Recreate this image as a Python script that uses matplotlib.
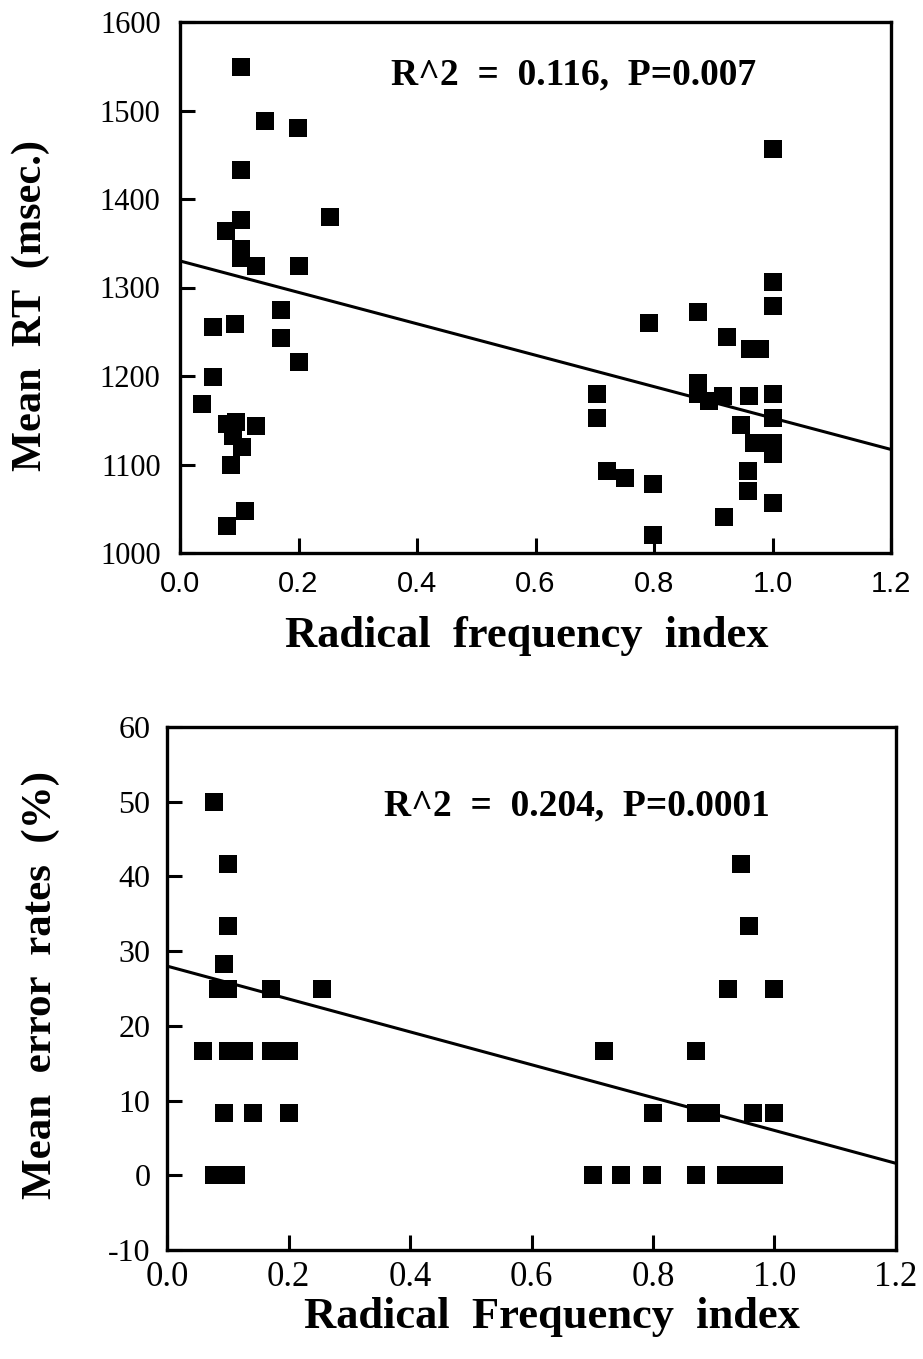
import matplotlib
matplotlib.use("Agg")
import matplotlib.pyplot as plt
from matplotlib.ticker import FixedLocator, FormatStrFormatter

plt.rcParams["axes.unicode_minus"] = False

# ---------------- data ----------------
rt_x = [0.103, 0.144, 0.199, 0.103, 0.103, 0.254, 0.078, 0.103, 0.103, 0.128,
        0.200, 0.171, 0.171, 0.056, 0.092, 0.200, 0.056, 0.037, 0.080, 0.095,
        0.128, 0.090, 0.104, 0.086, 0.110, 0.080,
        0.703, 0.703, 0.792, 0.875, 1.001, 1.001, 1.001, 0.924, 0.962, 0.979,
        0.875, 0.875, 0.893, 0.917, 0.960, 1.001, 1.001, 0.947, 0.968, 0.985,
        1.001, 1.001, 0.959, 0.959, 1.001, 0.720, 0.751, 0.798, 0.798, 0.918]
rt_y = [1549, 1488, 1480, 1433, 1376, 1380, 1364, 1343, 1333, 1324,
        1324, 1275, 1243, 1255, 1259, 1216, 1199, 1168, 1146, 1148,
        1144, 1132, 1120, 1100, 1048, 1031,
        1180, 1152, 1260, 1272, 1457, 1306, 1279, 1244, 1231, 1231,
        1192, 1180, 1172, 1177, 1177, 1180, 1152, 1145, 1124, 1124,
        1124, 1112, 1093, 1070, 1057, 1093, 1085, 1078, 1020, 1041]

err_x = [0.078, 0.101, 0.100, 0.094, 0.084, 0.101, 0.171, 0.255, 0.060, 0.101,
         0.126, 0.171, 0.200, 0.094, 0.141, 0.200, 0.078, 0.095, 0.113,
         0.719, 0.870, 0.800, 0.870, 0.895, 0.702, 0.748, 0.798, 0.870, 0.920,
         0.940, 0.960, 0.980, 1.000, 0.945, 0.958, 0.923, 1.000, 0.964, 1.000]
err_y = [50.0, 41.7, 33.3, 28.3, 25.0, 25.0, 25.0, 25.0, 16.7, 16.7,
         16.7, 16.7, 16.7, 8.3, 8.3, 8.3, 0.0, 0.0, 0.0,
         16.7, 16.7, 8.3, 8.3, 8.3, 0.0, 0.0, 0.0, 0.0, 0.0,
         0.0, 0.0, 0.0, 0.0, 41.7, 33.3, 25.0, 25.0, 8.3, 8.3]

rt_fit_x = [0.0, 1.2]
rt_fit_y = [1330, 1117]
err_fit_x = [0.0, 1.2]
err_fit_y = [28.0, 1.6]

rt_xticks = [0.0, 0.2, 0.4, 0.6, 0.8, 1.0, 1.2]
rt_yticks = [1000, 1100, 1200, 1300, 1400, 1500, 1600]
err_xticks = [0.0, 0.2, 0.4, 0.6, 0.8, 1.0, 1.2]
err_yticks = [-10, 0, 10, 20, 30, 40, 50, 60]

rt_text = "R^2  =  0.116,  P=0.007"
err_text = "R^2  =  0.204,  P=0.0001"

# ---------------- figure ----------------
SERIF = "Liberation Serif"
SANS = "Liberation Sans"
W, H = 923, 1359
fig = plt.figure(figsize=(W / 100, H / 100), dpi=100)

ax1 = fig.add_axes([180 / W, 1 - 553 / H, 711 / W, 531 / H])
ax2 = fig.add_axes([167 / W, 1 - 1250 / H, 729 / W, 523 / H])

ms = 12.6
for ax, x, y, fx, fy in [(ax1, rt_x, rt_y, rt_fit_x, rt_fit_y),
                         (ax2, err_x, err_y, err_fit_x, err_fit_y)]:
    ax.plot(x, y, linestyle="none", marker="s", markersize=ms,
            color="black", markeredgewidth=0, clip_on=False, zorder=3)
    ax.plot(fx, fy, color="black", linewidth=2.2, zorder=2)
    for s in ax.spines.values():
        s.set_linewidth(2.4)
    ax.tick_params(direction="in", length=11, width=2.2, top=False, right=False)
    ax.tick_params(axis="x", pad=12)

ax1.tick_params(axis="y", pad=14)
ax2.tick_params(axis="y", pad=12)

# top panel
ax1.set_xlim(0, 1.2)
ax1.set_ylim(1000, 1600)
ax1.xaxis.set_major_locator(FixedLocator(rt_xticks))
ax1.yaxis.set_major_locator(FixedLocator(rt_yticks))
ax1.xaxis.set_major_formatter(FormatStrFormatter("%.1f"))
for lab in ax1.get_xticklabels():
    lab.set_fontfamily(SANS)
    lab.set_fontsize(21)
for lab in ax1.get_yticklabels():
    lab.set_fontfamily(SERIF)
    lab.set_fontsize(22)
ax1.set_xlabel("Radical  frequency  index", fontfamily=SERIF, fontweight="bold",
               fontsize=32)
ax1.xaxis.set_label_coords(0.488, -0.118)
ax1.set_ylabel("Mean  RT  (msec.)", fontfamily=SERIF, fontweight="bold",
               fontsize=30.5)
ax1.yaxis.set_label_coords(-0.183, 0.467)
ax1.text(0.665, 1540, rt_text, fontfamily=SERIF, fontweight="bold",
         fontsize=27, ha="center", va="center")

# bottom panel
ax2.set_xlim(0, 1.2)
ax2.set_ylim(-10, 60)
ax2.xaxis.set_major_locator(FixedLocator(err_xticks))
ax2.yaxis.set_major_locator(FixedLocator(err_yticks))
ax2.xaxis.set_major_formatter(FormatStrFormatter("%.1f"))
for lab in ax2.get_xticklabels():
    lab.set_fontfamily(SERIF)
    lab.set_fontsize(25)
for lab in ax2.get_yticklabels():
    lab.set_fontfamily(SERIF)
    lab.set_fontsize(23)
ax2.tick_params(axis="x", pad=8)
ax2.set_xlabel("Radical  Frequency  index", fontfamily=SERIF, fontweight="bold",
               fontsize=32)
ax2.xaxis.set_label_coords(0.528, -0.090)
ax2.set_ylabel("Mean  error  rates  (%)", fontfamily=SERIF, fontweight="bold",
               fontsize=31)
ax2.yaxis.set_label_coords(-0.147, 0.507)
ax2.text(0.675, 49.4, err_text, fontfamily=SERIF, fontweight="bold",
         fontsize=27, ha="center", va="center")

fig.savefig("out.png", dpi=100)
